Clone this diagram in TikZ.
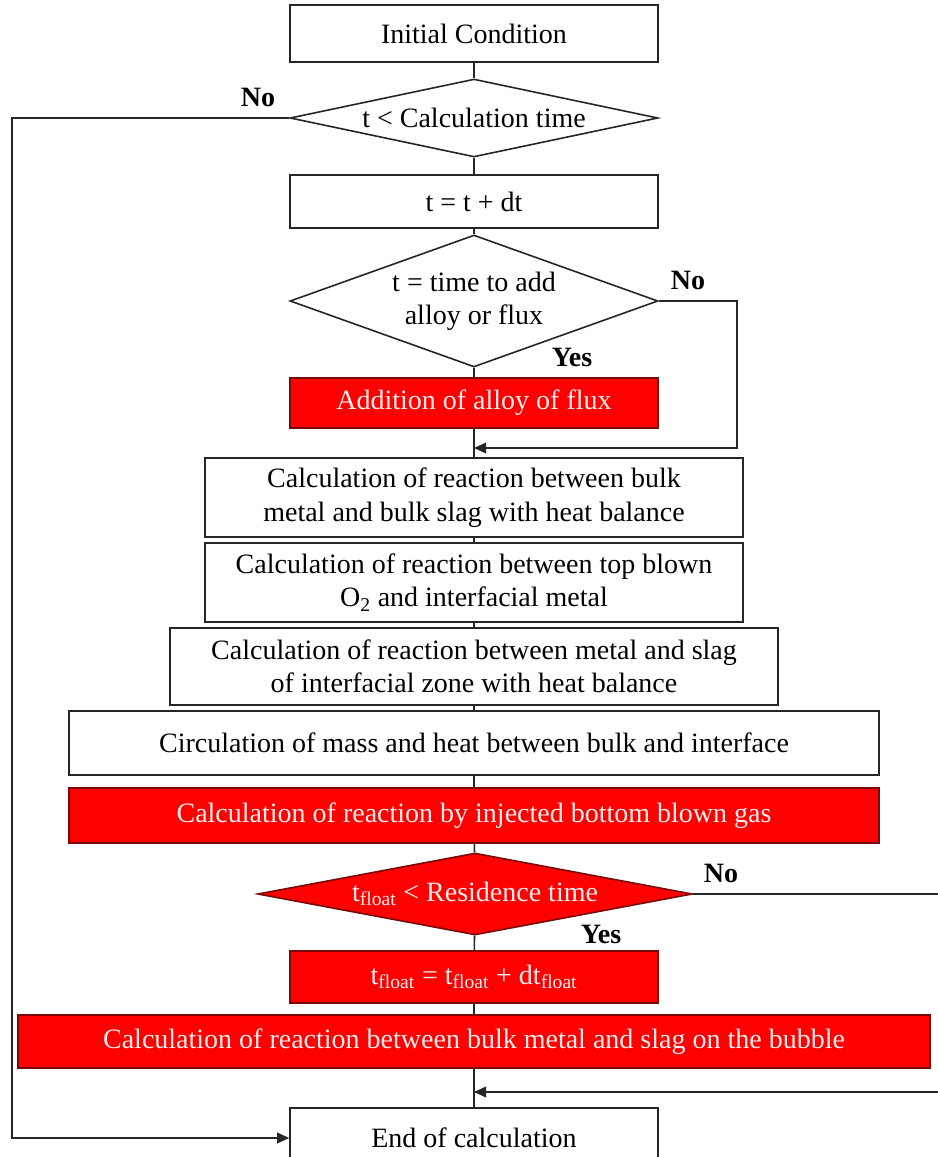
\documentclass[tikz,border=0pt]{standalone}
\usepackage{fontspec}
\setmainfont{Liberation Serif}
\usetikzlibrary{positioning, calc, arrows.meta, shapes.geometric}
\definecolor{Ink}{HTML}{262626}
\definecolor{Alarm}{HTML}{FF0000}
\definecolor{AlarmEdge}{HTML}{7A0A0A}
\definecolor{Paper}{HTML}{FFFFFF}
\definecolor{Blush}{HTML}{FFEDED}
\tikzset{
    procnode/.style={rectangle, draw=Ink, line width=1.2pt, fill=Paper, text=black, align=center, inner sep=2pt, font=\fontsize{21}{25}\selectfont},
    rednode/.style={procnode, draw=AlarmEdge, fill=Alarm, text=Blush},
    decnode/.style={diamond, draw=Ink, line width=1.2pt, fill=Paper, text=black, align=center, inner sep=0pt, font=\fontsize{21}{25}\selectfont},
    reddecnode/.style={decnode, draw=AlarmEdge, fill=Alarm, text=Blush},
    link/.style={draw=Ink, line width=1.2pt},
    arrow/.style={link, -{Triangle[length=9pt, width=8pt]}},
    lbl/.style={font=\bfseries\fontsize{21}{25}\selectfont, text=black},
}
\begin{document}
\begin{tikzpicture}[x=0.75pt, y=-0.75pt]
    \useasboundingbox (0,0) rectangle (938,1157);

    % Start and time loop
    \node[procnode, minimum width=276pt, minimum height=42.75pt] (init) at (474,33.5) {Initial Condition};
    \node[decnode, shape aspect=4.72, minimum width=276pt, minimum height=58.5pt] (tcheck) at (474,118) {t < Calculation time};
    \node[procnode, minimum width=276pt, minimum height=39.75pt] (tstep) at (474,201.5) {t = t + dt};
    \node[decnode, shape aspect=2.79, minimum width=276pt, minimum height=99pt] (addcheck) at (474,301) {t = time to add\\alloy or flux};
    \node[rednode, minimum width=276pt, minimum height=37.5pt] (addition) at (474,403) {Addition of alloy of flux};

    % Reaction steps
    \node[procnode, minimum width=403.5pt, minimum height=59.25pt] (bulkreac) at (474,497.5) {Calculation of reaction between bulk\\metal and bulk slag with heat balance};
    \node[procnode, minimum width=403.5pt, minimum height=59.25pt] (topblown) at (474,582.5) {Calculation of reaction between top blown\\O\textsubscript{2} and interfacial metal};
    \node[procnode, minimum width=456pt, minimum height=57.75pt] (interzone) at (474,666.5) {Calculation of reaction between metal and slag\\of interfacial zone with heat balance};
    \node[procnode, minimum width=607.5pt, minimum height=48pt] (circul) at (474,743) {Circulation of mass and heat between bulk and interface};
    \node[rednode, minimum width=607.5pt, minimum height=41.25pt] (bottomgas) at (474,815.5) {Calculation of reaction by injected bottom blown gas};

    % Bubble float loop
    \node[reddecnode, shape aspect=5.3, minimum width=326pt, minimum height=61.5pt] (floatcheck) at (475,894) {t\textsubscript{float} < Residence time};
    \node[rednode, minimum width=276pt, minimum height=39pt] (floatstep) at (474,977) {t\textsubscript{float} = t\textsubscript{float} + dt\textsubscript{float}};
    \node[rednode, minimum width=684pt, minimum height=39.75pt] (bubble) at (474,1041.5) {Calculation of reaction between bulk metal and slag on the bubble};
    \node[procnode, minimum width=276pt, minimum height=45pt] (finish) at (474,1138) {End of calculation};

    % Helper points
    \coordinate (noadd) at (737,448);
    \coordinate (joinadd) at (474,448);
    \coordinate (leftrail) at (12,118);
    \coordinate (floatout) at (938,894);
    \coordinate (floatin) at (938,1092);
    \coordinate (joinfloat) at (474,1092);

    % Main flow
    \draw[link] (init) -- (tcheck);
    \draw[link] (tcheck) -- (tstep);
    \draw[link] (tstep) -- (addcheck);
    \draw[link] (addcheck) -- (addition);
    \draw[link] (addition) -- (bulkreac);
    \draw[link] (bulkreac) -- (topblown);
    \draw[link] (topblown) -- (interzone);
    \draw[link] (interzone) -- (circul);
    \draw[link] (circul) -- (bottomgas);
    \draw[link] (bottomgas) -- (floatcheck);
    \draw[link] (floatcheck) -- (floatstep);
    \draw[link] (floatstep) -- (bubble);
    \draw[link] (bubble) -- (finish);

    % Branches
    \draw[arrow] (addcheck.east) -| (noadd) -- (joinadd);
    \draw[arrow] (tcheck.west) -- (leftrail) |- (finish.west);
    \draw[link] (floatcheck.east) -- (floatout);
    \draw[arrow] (floatin) -- (joinfloat);

    % Labels
    \node[lbl] (no1) at (258,97) {No};
    \node[lbl] (no2) at (688,280) {No};
    \node[lbl] (yes2) at (572,357) {Yes};
    \node[lbl] (no3) at (721,873) {No};
    \node[lbl] (yes3) at (601,934) {Yes};
\end{tikzpicture}
\end{document}
